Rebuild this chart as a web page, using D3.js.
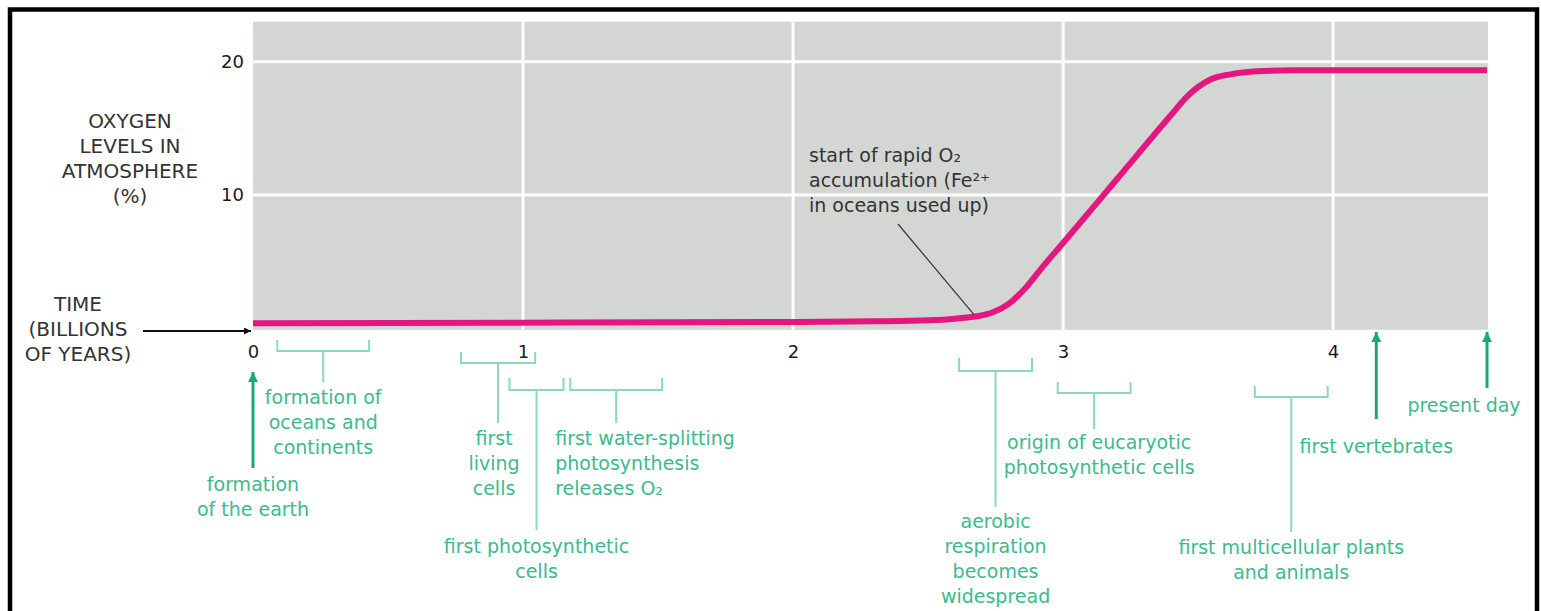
<!DOCTYPE html>
<html><head><meta charset="utf-8">
<script src="https://cdn.jsdelivr.net/npm/d3@7"></script>
<style>
html,body{margin:0;padding:0;background:#fff;}
svg{display:block;}
text{font-family:"DejaVu Sans",sans-serif;}
</style></head><body>
<svg id="chart" width="1541" height="611"></svg>
<script>
// ---------- data ----------
const timeBillions = [0, 1, 2, 2.3, 2.5, 2.6, 2.68, 2.74, 2.8, 2.86, 2.92, 3.0, 3.2, 3.4, 3.46, 3.5, 3.55, 3.62, 3.72, 3.85, 4.57];
const oxygenPercent = [0.38, 0.42, 0.47, 0.52, 0.6, 0.72, 0.9, 1.2, 1.85, 3.0, 4.5, 6.4, 11.2, 16.0, 17.4, 18.1, 18.7, 19.05, 19.28, 19.35, 19.35];
const xTicks = [0, 1, 2, 3, 4];
const yTicks = [10, 20];
const yTitleLines = ["OXYGEN", "LEVELS IN", "ATMOSPHERE", "(%)"];
const xTitleLines = ["TIME", "(BILLIONS", "OF YEARS)"];
const noteLines = ["start of rapid O₂", "accumulation (Fe²⁺", "in oceans used up)"];
const noteTime = 2.67;

const spanLabels = [
  ["formation of", "oceans and", "continents"],
  ["first", "living", "cells"],
  ["first photosynthetic", "cells"],
  ["first water-splitting", "photosynthesis", "releases O₂"],
  ["aerobic", "respiration", "becomes", "widespread"],
  ["origin of eucaryotic", "photosynthetic cells"],
  ["first multicellular plants", "and animals"]
];
const spanStart = [0.09, 0.77, 0.95, 1.175, 2.615, 2.98, 3.71];
const spanEnd   = [0.43, 1.045, 1.15, 1.515, 2.885, 3.25, 3.98];

const pointLabels = [["formation", "of the earth"], ["first vertebrates"], ["present day"]];
const pointTimes = [0, 4.16, 4.57];

// ---------- layout (positions, not data) ----------
const spanLayout = [
  {top: 340, bar: 351, stem: 382, text: 397, anchor: "middle", dx: 0},
  {top: 352, bar: 363, stem: 423, text: 438, anchor: "middle", dx: -4},
  {top: 378, bar: 390, stem: 530, text: 546, anchor: "middle", dx: 0},
  {top: 378, bar: 390, stem: 423, text: 438, anchor: "start", dx: -61},
  {top: 358, bar: 371, stem: 507, text: 521, anchor: "middle", dx: 0},
  {top: 382, bar: 393, stem: 429, text: 442, anchor: "middle", dx: 5},
  {top: 386, bar: 397, stem: 532, text: 547, anchor: "middle", dx: 0}
];
const pointLayout = [
  {from: 468, to: 372, text: 484, dx: 0},
  {from: 419, to: 332, text: 446, dx: 0},
  {from: 388, to: 332, text: 405, dx: -23}
];
const lineH = 25;

const green = "#3cba8d", greenLight = "#8ad9bb", greenDark = "#1aa877";
const ink = "#333";

const svg = d3.select("#chart");
const x = d3.scaleLinear().domain([0, 4.57]).range([253, 1487]);
const y = d3.scaleLinear().domain([0, 23]).range([328.3, 21.7]);

// frame
svg.append("rect").attr("x", 10).attr("y", 9.5).attr("width", 1527).attr("height", 800)
  .attr("fill", "none").attr("stroke", "#000").attr("stroke-width", 4.5);

// plot background
svg.append("rect").attr("x", x(0)).attr("y", y(23))
  .attr("width", x(4.57) - x(0) + 1).attr("height", y(0) - y(23) + 1.5)
  .attr("fill", "#d4d6d3");

// gridlines
svg.append("g").selectAll("line").data(xTicks.filter(d => d > 0)).join("line")
  .attr("x1", d => x(d)).attr("x2", d => x(d))
  .attr("y1", y(23)).attr("y2", y(0) + 1.5)
  .attr("stroke", "#fff").attr("stroke-width", 3);
svg.append("g").selectAll("line").data(yTicks).join("line")
  .attr("x1", x(0)).attr("x2", x(4.57) + 1)
  .attr("y1", d => y(d)).attr("y2", d => y(d))
  .attr("stroke", "#fff").attr("stroke-width", 3);

// axes
const xAxis = svg.append("g").attr("transform", `translate(0,${y(0)})`)
  .call(d3.axisBottom(x).tickValues(xTicks).tickFormat(d3.format("d")).tickSize(0).tickPadding(17));
xAxis.select(".domain").remove();
xAxis.selectAll("text").attr("font-size", 18).attr("font-family", "DejaVu Sans").attr("fill", "#1a1a1a");

const yAxis = svg.append("g").attr("transform", `translate(${x(0)},0)`)
  .call(d3.axisLeft(y).tickValues(yTicks).tickFormat(d3.format("d")).tickSize(0).tickPadding(9));
yAxis.select(".domain").remove();
yAxis.selectAll("text").attr("font-size", 18).attr("font-family", "DejaVu Sans").attr("fill", "#1a1a1a");

// axis titles
svg.append("text").attr("text-anchor", "middle").attr("font-size", 20).attr("fill", ink)
  .selectAll("tspan").data(yTitleLines).join("tspan")
  .attr("x", 130).attr("y", (d, i) => 121 + i * lineH).attr("dy", "0.36em").text(d => d);
svg.append("text").attr("text-anchor", "middle").attr("font-size", 20).attr("fill", ink)
  .selectAll("tspan").data(xTitleLines).join("tspan")
  .attr("x", 78).attr("y", (d, i) => 304 + i * lineH).attr("dy", "0.36em").text(d => d);

// markers
const defs = svg.append("defs");
defs.append("marker").attr("id", "arrBlack").attr("viewBox", "0 0 10 10")
  .attr("refX", 10).attr("refY", 5).attr("markerWidth", 9).attr("markerHeight", 7)
  .attr("markerUnits", "userSpaceOnUse").attr("orient", "auto")
  .append("path").attr("d", "M0,0L10,5L0,10z").attr("fill", "#111");
defs.append("marker").attr("id", "arrGreen").attr("viewBox", "0 0 10 10")
  .attr("refX", 10).attr("refY", 5).attr("markerWidth", 12).attr("markerHeight", 10)
  .attr("markerUnits", "userSpaceOnUse").attr("orient", "auto")
  .append("path").attr("d", "M0,0L10,5L0,10z").attr("fill", greenDark);

// time arrow
svg.append("line").attr("x1", 143).attr("x2", x(0) - 2).attr("y1", 331).attr("y2", 331)
  .attr("stroke", "#111").attr("stroke-width", 2).attr("marker-end", "url(#arrBlack)");

// oxygen curve
const pts = timeBillions.map((t, i) => [t, oxygenPercent[i]]);
svg.append("path").datum(pts)
  .attr("d", d3.line().x(d => x(d[0])).y(d => y(d[1])).curve(d3.curveMonotoneX))
  .attr("fill", "none").attr("stroke", "#e3177f").attr("stroke-width", 6);

// note and leader
svg.append("line").attr("x1", 898).attr("y1", 224)
  .attr("x2", x(noteTime)).attr("y2", y(0.87) - 2)
  .attr("stroke", "#333").attr("stroke-width", 1.2);
svg.append("text").attr("font-size", 19).attr("fill", ink)
  .selectAll("tspan").data(noteLines).join("tspan")
  .attr("x", 809).attr("y", (d, i) => 155 + i * lineH).attr("dy", "0.36em").text(d => d);

// span brackets
spanLabels.forEach((lines, i) => {
  const L = spanLayout[i];
  const a = x(spanStart[i]), b = x(spanEnd[i]), m = (a + b) / 2;
  const g = svg.append("g");
  g.append("path")
    .attr("d", `M${a},${L.top}V${L.bar}H${b}V${L.top}M${m},${L.bar}V${L.stem}`)
    .attr("fill", "none").attr("stroke", greenLight).attr("stroke-width", 2);
  g.append("text").attr("text-anchor", L.anchor).attr("font-size", 19).attr("fill", green)
    .selectAll("tspan").data(lines).join("tspan")
    .attr("x", m + L.dx).attr("y", (d, j) => L.text + j * lineH).attr("dy", "0.36em").text(d => d);
});

// point arrows
pointLabels.forEach((lines, i) => {
  const L = pointLayout[i];
  const px = x(pointTimes[i]);
  const g = svg.append("g");
  g.append("line").attr("x1", px).attr("x2", px).attr("y1", L.from).attr("y2", L.to)
    .attr("stroke", greenDark).attr("stroke-width", 3).attr("marker-end", "url(#arrGreen)");
  g.append("text").attr("text-anchor", "middle").attr("font-size", 19).attr("fill", green)
    .selectAll("tspan").data(lines).join("tspan")
    .attr("x", px + L.dx).attr("y", (d, j) => L.text + j * lineH).attr("dy", "0.36em").text(d => d);
});
</script>
</body></html>
